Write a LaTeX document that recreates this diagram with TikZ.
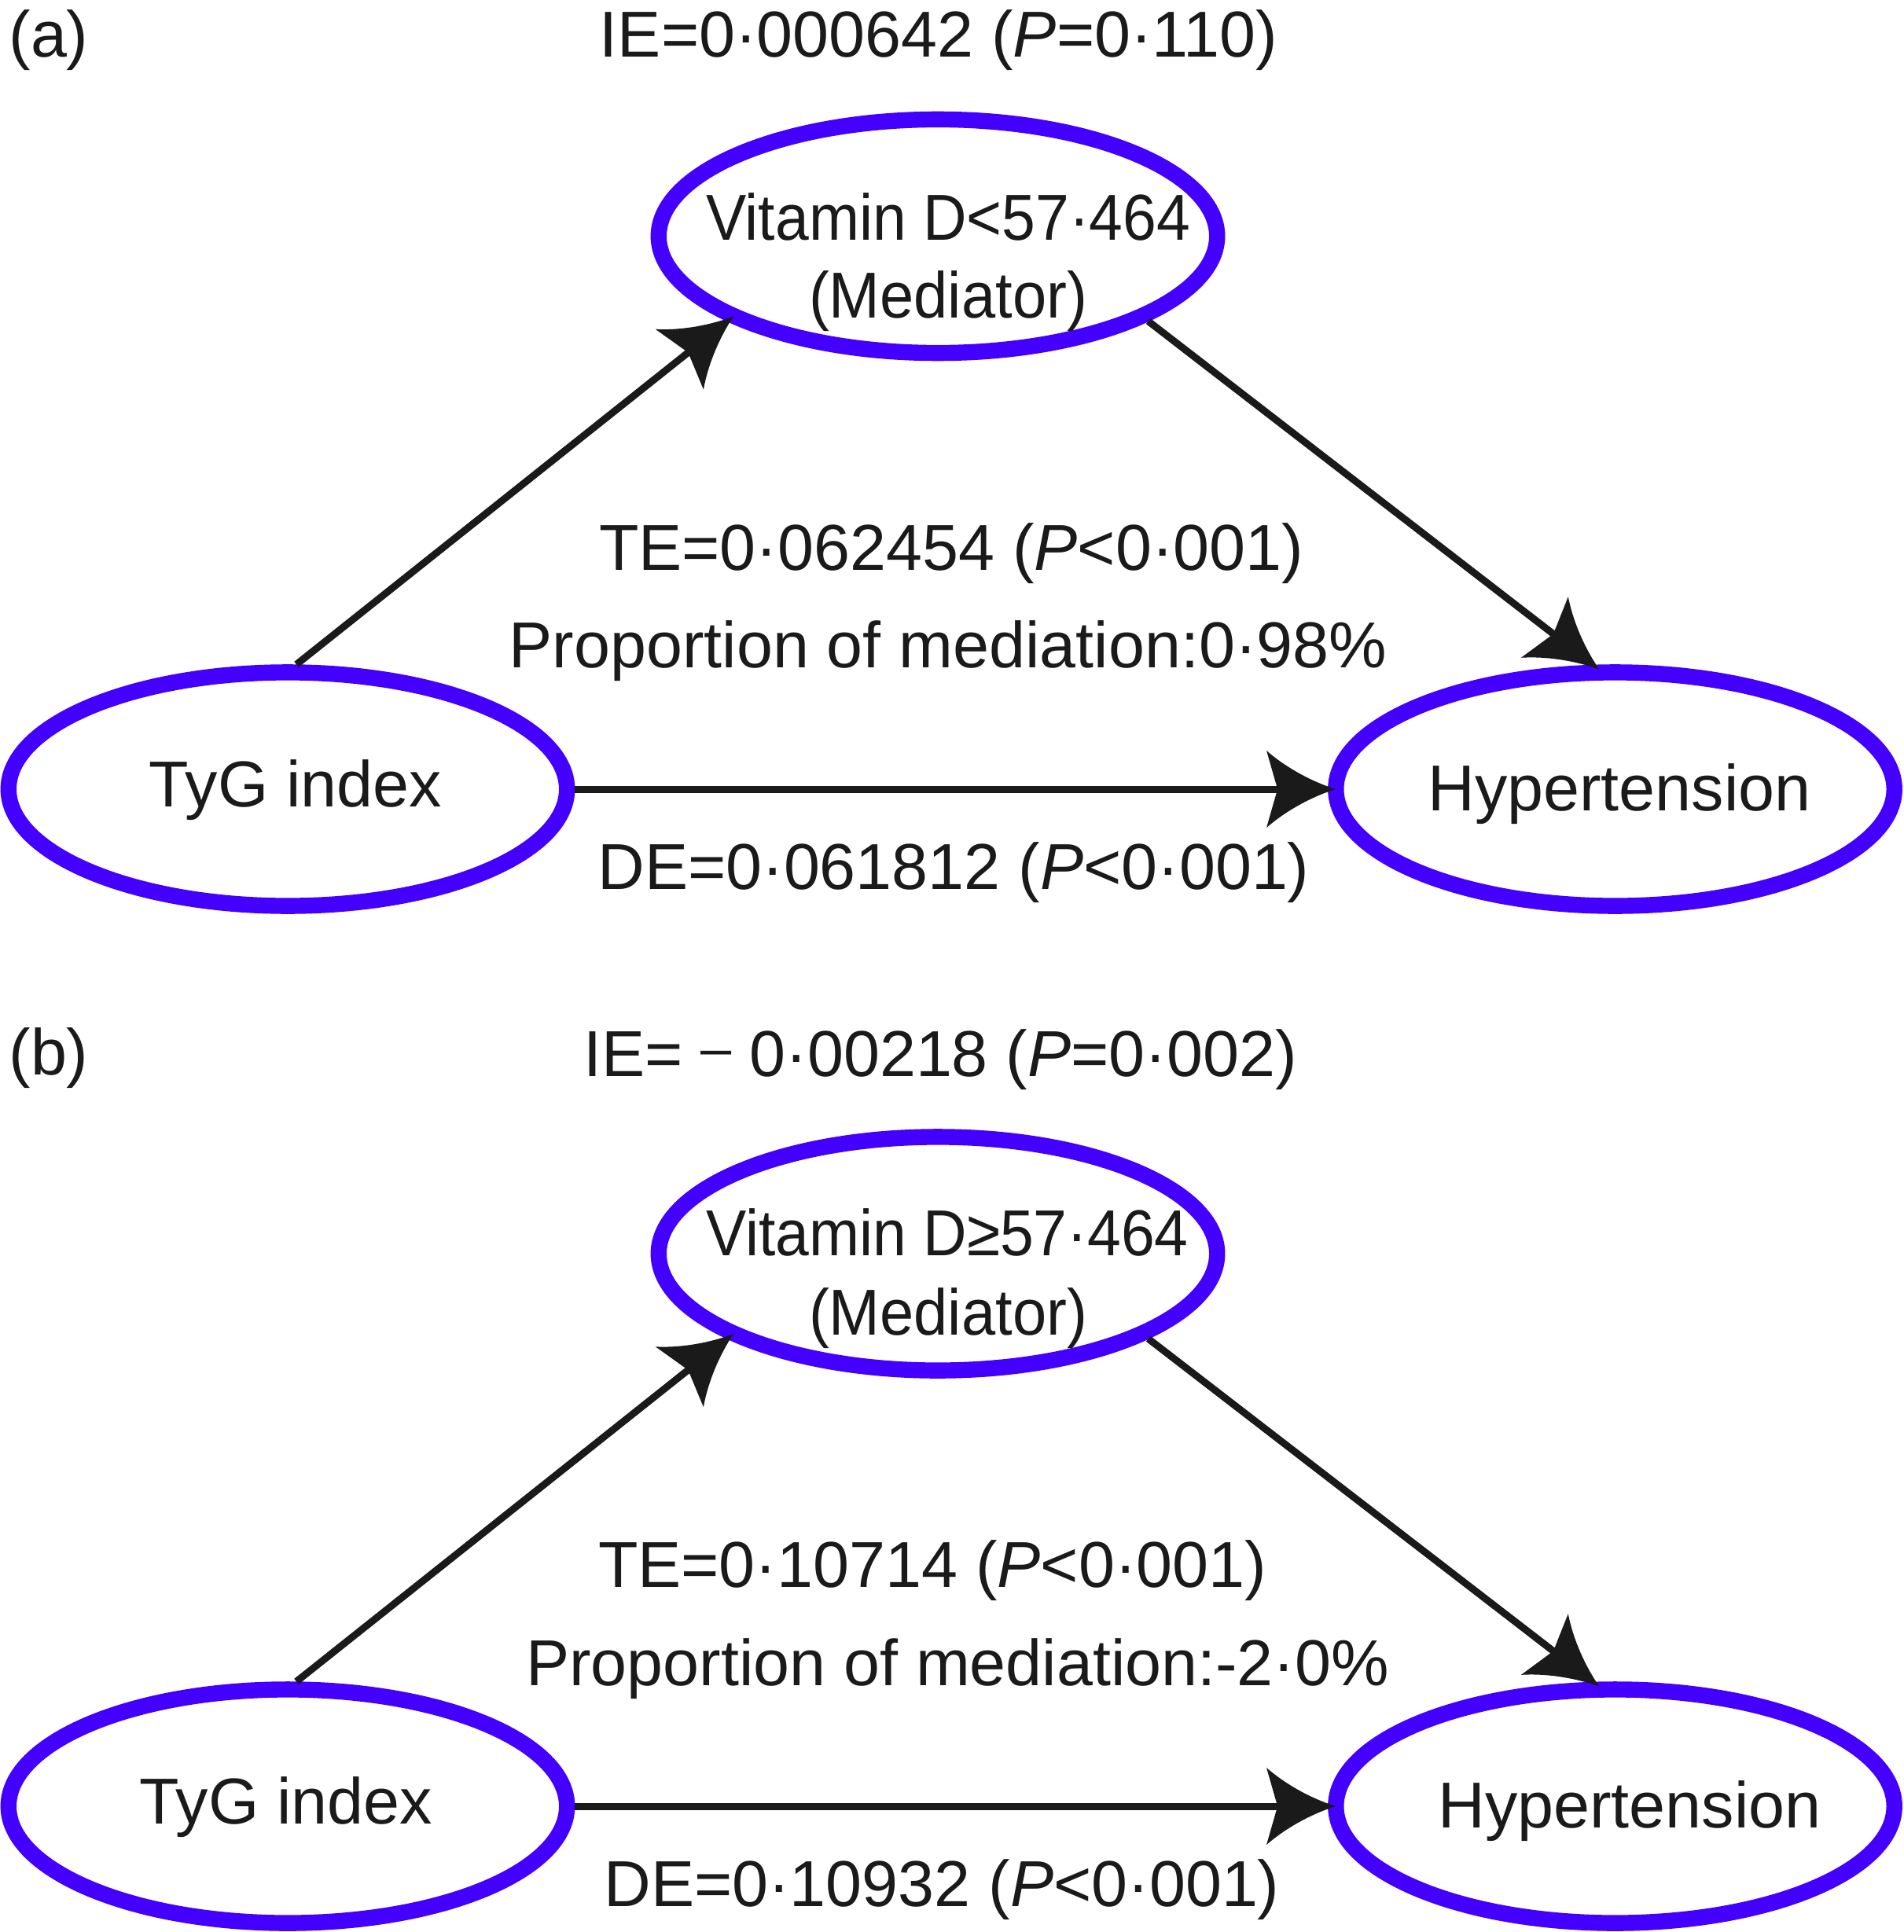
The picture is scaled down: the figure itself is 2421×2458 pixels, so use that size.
\documentclass[tikz,border=0pt]{standalone}
\usepackage{fontspec}
\usepackage{graphicx}
\setmainfont{Liberation Sans}
\usetikzlibrary{arrows.meta,shapes.geometric}
\definecolor{vblue}{RGB}{68,0,255}
\definecolor{ink}{RGB}{26,26,26}
\pgfdeclarearrow{
  name = Dart,
  parameters = {\the\pgfarrowlength,\the\pgfarrowwidth},
  setup code = {
    \pgfarrowssettipend{0pt}
    \pgfarrowssetlineend{-0.8\pgfarrowlength}
    \pgfarrowssetbackend{-\pgfarrowlength}
    \pgfarrowssavethe\pgfarrowlength
    \pgfarrowssavethe\pgfarrowwidth
  },
  drawing code = {
    \pgfpathmoveto{\pgfqpoint{0pt}{0pt}}
    \pgfpathcurveto{\pgfpoint{-0.35\pgfarrowlength}{0.1\pgfarrowwidth}}{\pgfpoint{-0.72\pgfarrowlength}{0.28\pgfarrowwidth}}{\pgfpoint{-\pgfarrowlength}{0.5\pgfarrowwidth}}
    \pgfpathlineto{\pgfpoint{-0.84\pgfarrowlength}{0pt}}
    \pgfpathlineto{\pgfpoint{-\pgfarrowlength}{-0.5\pgfarrowwidth}}
    \pgfpathcurveto{\pgfpoint{-0.72\pgfarrowlength}{-0.28\pgfarrowwidth}}{\pgfpoint{-0.35\pgfarrowlength}{-0.1\pgfarrowwidth}}{\pgfqpoint{0pt}{0pt}}
    \pgfpathclose
    \pgfusepathqfill
  },
  defaults = {length = 10pt, width = 10pt}
}
\newcommand{\narrow}[2]{\scalebox{#1}[1]{#2}}
\newcommand{\smallminus}{{\fontsize{20pt}{20pt}\selectfont\raisebox{3.4pt}{–}}}
\begin{document}
\begin{tikzpicture}[x=0.01cm,y=-0.01cm,
  ell/.style={ellipse,draw=vblue,line width=5.8pt,minimum width=7.1cm,minimum height=2.97cm,inner sep=0pt},
  txt/.style={anchor=base,inner sep=0pt,text=ink,font=\fontsize{23.5pt}{27.9pt}\selectfont},
  conn/.style={draw=ink,line width=2.56pt,-{Dart[length=25pt,width=27.9pt]},shorten >=-2.8pt}]
\useasboundingbox (0,0) rectangle (2421,2458);

% panel (a)
\node[ell] (vitA) at (1193,300.5) {};
\node[ell] (tygA) at (366,1004) {};
\node[ell] (hypA) at (2054.5,1004) {};
\node[txt] (labA) at (62,73) {(a)};
\node[txt] (ieA) at (1194,73) {IE=0·000642 (\textit{P}=0·110)};
\node[txt] (vitA1) at (1206,306) {\narrow{0.93}{Vitamin D<57·464}};
\node[txt] (vitA2) at (1206,404) {\narrow{0.94}{(Mediator)}};
\node[txt] (teA) at (1210,725) {TE=0·062454 (\textit{P}<0·001)};
\node[txt] (propA) at (1206,849) {Proportion of mediation:0·98\%};
\node[txt] (tygAt) at (376,1026) {TyG index};
\node[txt] (hypAt) at (2060,1031) {Hypertension};
\node[txt] (deA) at (1213,1131) {DE=0·061812 (\textit{P}<0·001)};
\draw[conn] (tygA.86) -- (vitA.202);
\draw[conn] (vitA.-22) -- (hypA.100);
\draw[conn] (tygA.east) -- (hypA.west);

% panel (b)
\node[ell] (vitB) at (1193,1595) {};
\node[ell] (tygB) at (366,2298) {};
\node[ell] (hypB) at (2054.5,2298) {};
\node[txt] (labB) at (62,1367) {(b)};
\node[txt] (ieB) at (1196,1369) {IE= \smallminus{} 0·00218 (\textit{P}=0·002)};
\node[txt] (vitB1) at (1205,1597) {\narrow{0.93}{Vitamin D≥57·464}};
\node[txt] (vitB2) at (1206,1698) {\narrow{0.94}{(Mediator)}};
\node[txt] (teB) at (1186,2019) {TE=0·10714 (\textit{P}<0·001)};
\node[txt] (propB) at (1218,2144) {Proportion of mediation:-2·0\%};
\node[txt] (tygBt) at (364,2320) {TyG index};
\node[txt] (hypBt) at (2073,2325) {Hypertension};
\node[txt] (deB) at (1198,2425) {DE=0·10932 (\textit{P}<0·001)};
\draw[conn] (tygB.86) -- (vitB.202);
\draw[conn] (vitB.-22) -- (hypB.100);
\draw[conn] (tygB.east) -- (hypB.west);
\end{tikzpicture}
\end{document}
